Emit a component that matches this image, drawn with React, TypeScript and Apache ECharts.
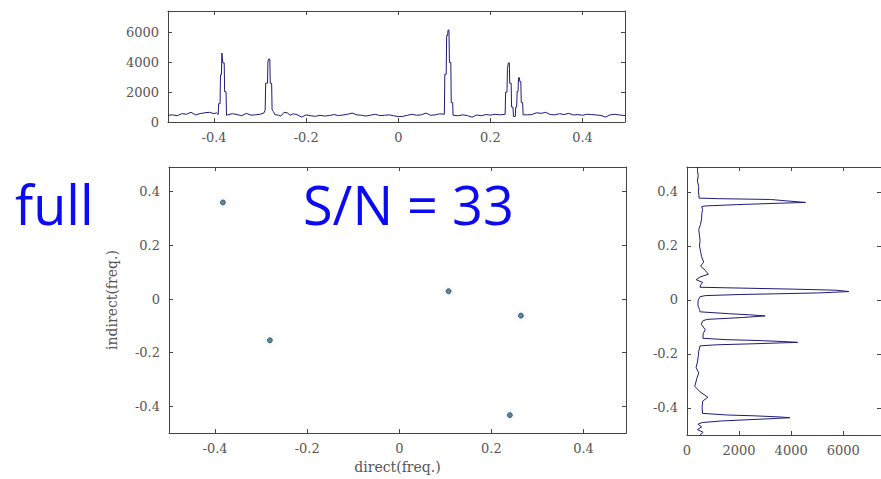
import React, { useEffect, useRef } from "react";
import * as echarts from "echarts";

// Axis ranges and tick positions
const FREQ_MIN = -0.5;
const FREQ_MAX = 0.4922;
const AMP_MAX = 7450;
const freqTicks = [-0.4, -0.2, 0, 0.2, 0.4];
const ampTicks = [0, 2000, 4000, 6000];

// Peaks found in the 2-D plane: [direct freq, indirect freq]
const peaks: [number, number][] = [
  [-0.383, 0.36],
  [-0.281, -0.154],
  [0.107, 0.029],
  [0.264, -0.062],
  [0.24, -0.433],
];

// Projection onto the direct axis: [freq, amplitude]
const directProjection: [number, number][] = [
  [-0.5, 450], [-0.49, 480], [-0.48, 420], [-0.47, 560], [-0.46, 520], [-0.45, 650],
  [-0.44, 480], [-0.43, 560], [-0.42, 620], [-0.41, 650], [-0.4, 560], [-0.395, 620],
  [-0.391, 500], [-0.39, 1230], [-0.387, 1230], [-0.386, 3170], [-0.384, 3170],
  [-0.383, 4630], [-0.381, 3970], [-0.378, 3970], [-0.377, 2030], [-0.374, 2030],
  [-0.373, 450], [-0.37, 480], [-0.36, 560], [-0.35, 500], [-0.34, 420], [-0.33, 580],
  [-0.32, 460], [-0.31, 480], [-0.3, 520], [-0.292, 600], [-0.289, 800], [-0.288, 2600],
  [-0.284, 2600], [-0.283, 4100], [-0.281, 4230], [-0.279, 4230], [-0.278, 2600],
  [-0.275, 2600], [-0.274, 800], [-0.271, 700], [-0.268, 500], [-0.26, 450], [-0.255, 400],
  [-0.248, 650], [-0.24, 600], [-0.235, 450], [-0.228, 550], [-0.22, 500], [-0.21, 330],
  [-0.2, 480], [-0.19, 420], [-0.18, 380], [-0.17, 450], [-0.16, 400], [-0.15, 430],
  [-0.14, 500], [-0.13, 430], [-0.12, 470], [-0.11, 520], [-0.1, 600], [-0.09, 480],
  [-0.08, 450], [-0.07, 400], [-0.06, 460], [-0.05, 520], [-0.04, 430], [-0.03, 450],
  [-0.02, 480], [-0.01, 420], [0, 360], [0.01, 380], [0.02, 450], [0.03, 520], [0.04, 450],
  [0.05, 480], [0.06, 600], [0.07, 450], [0.08, 480], [0.09, 550], [0.1, 520],
  [0.101, 3200], [0.104, 3200], [0.105, 5800], [0.107, 5800], [0.108, 6170], [0.11, 6170],
  [0.111, 4000], [0.114, 4000], [0.115, 1300], [0.118, 1300], [0.119, 450], [0.13, 420],
  [0.14, 480], [0.15, 430], [0.16, 320], [0.17, 470], [0.18, 420], [0.19, 500], [0.2, 460],
  [0.21, 520], [0.22, 480], [0.232, 520], [0.233, 2000], [0.236, 2000], [0.237, 3600],
  [0.239, 3970], [0.241, 3970], [0.242, 2600], [0.245, 2600], [0.246, 1000], [0.249, 1000],
  [0.25, 370], [0.254, 370], [0.255, 1000], [0.257, 1000], [0.258, 2050], [0.26, 2050],
  [0.261, 2970], [0.263, 2970], [0.264, 2700], [0.266, 2700], [0.267, 1300], [0.27, 1300],
  [0.271, 480], [0.28, 480], [0.29, 500], [0.3, 620], [0.31, 580], [0.32, 650], [0.33, 500],
  [0.34, 480], [0.35, 560], [0.36, 500], [0.37, 580], [0.38, 470], [0.39, 500], [0.4, 450],
  [0.41, 520], [0.42, 500], [0.43, 470], [0.44, 440], [0.45, 330], [0.46, 480], [0.47, 520],
  [0.48, 470], [0.4922, 430],
];

// Projection onto the indirect axis: [amplitude, freq]
const indirectProjection: [number, number][] = [
  [420, 0.4922], [400, 0.48], [430, 0.46], [400, 0.44], [450, 0.42], [440, 0.4],
  [460, 0.385], [460, 0.377], [1200, 0.375], [3200, 0.372], [3800, 0.367], [4550, 0.361],
  [3500, 0.358], [1950, 0.353], [700, 0.348], [560, 0.345], [600, 0.335], [570, 0.32],
  [560, 0.3], [520, 0.28], [450, 0.26], [480, 0.24], [500, 0.22], [480, 0.2], [520, 0.18],
  [560, 0.16], [640, 0.14], [520, 0.125], [700, 0.11], [820, 0.095], [500, 0.085],
  [350, 0.075], [600, 0.065], [520, 0.055], [500, 0.047], [1500, 0.045], [4100, 0.04],
  [5730, 0.036], [6220, 0.031], [5050, 0.026], [2000, 0.02], [700, 0.016], [500, 0.012],
  [430, 0], [420, -0.02], [480, -0.035], [500, -0.044], [1630, -0.051], [2400, -0.055],
  [3000, -0.059], [2130, -0.065], [760, -0.072], [600, -0.078], [550, -0.09], [700, -0.11],
  [620, -0.125], [610, -0.142], [1500, -0.147], [2650, -0.15], [3700, -0.154],
  [4250, -0.157], [2650, -0.162], [1140, -0.166], [500, -0.17], [450, -0.19], [430, -0.21],
  [400, -0.23], [350, -0.25], [450, -0.27], [380, -0.29], [300, -0.32], [500, -0.34],
  [800, -0.36], [600, -0.375], [580, -0.4], [600, -0.42], [1550, -0.426], [2580, -0.429],
  [3530, -0.433], [3950, -0.436], [3150, -0.44], [1320, -0.448], [580, -0.454],
  [420, -0.46], [560, -0.47], [400, -0.48], [620, -0.49], [500, -0.5],
];

const AXIS_COLOR = "#444";
const LABEL_FONT = "DejaVu Serif";
const LABEL_COLOR = "#555";
const LINE_COLOR = "#1c1c78";
const TITLE_COLOR = "#0a0af5";

type Pos = "bottom" | "top" | "left" | "right";

function axis(
  gridIndex: number,
  position: Pos,
  min: number,
  max: number,
  ticks: number[],
  labels: boolean,
  extra: Record<string, unknown> = {}
) {
  return {
    type: "value",
    gridIndex,
    position,
    min,
    max,
    splitLine: { show: false },
    axisLine: { show: true, onZero: false, lineStyle: { color: AXIS_COLOR, width: 1 } },
    axisTick: {
      show: true,
      inside: true,
      length: 4,
      customValues: ticks,
      lineStyle: { color: AXIS_COLOR, width: 1 },
    },
    axisLabel: {
      show: labels,
      customValues: ticks,
      margin: 9,
      fontFamily: LABEL_FONT,
      fontSize: 13,
      color: LABEL_COLOR,
      formatter: (v: number) => String(v),
    },
    ...extra,
  };
}

const axisName = {
  nameLocation: "middle",
  nameTextStyle: { fontFamily: LABEL_FONT, fontSize: 14, color: LABEL_COLOR },
};

export default function App() {
  const ref = useRef<HTMLDivElement>(null);

  useEffect(() => {
    if (!ref.current) return;
    const chart = echarts.init(ref.current, undefined, { renderer: "svg" });
    chart.setOption({
      animation: false,
      backgroundColor: "#fff",
      grid: [
        { left: 168, top: 11, width: 457, height: 111 },
        { left: 169, top: 167, width: 457, height: 268 },
        { left: 687, top: 167, width: 196, height: 268 },
      ],
      xAxis: [
        axis(0, "bottom", FREQ_MIN, FREQ_MAX, freqTicks, true),
        axis(0, "top", FREQ_MIN, FREQ_MAX, freqTicks, false),
        axis(1, "bottom", FREQ_MIN, FREQ_MAX, freqTicks, true, {
          ...axisName,
          name: "direct(freq.)",
          nameGap: 25,
        }),
        axis(1, "top", FREQ_MIN, FREQ_MAX, freqTicks, false),
        axis(2, "bottom", 0, AMP_MAX, ampTicks, true),
        axis(2, "top", 0, AMP_MAX, ampTicks, false),
      ],
      yAxis: [
        axis(0, "left", 0, AMP_MAX, ampTicks, true),
        axis(0, "right", 0, AMP_MAX, ampTicks, false),
        axis(1, "left", FREQ_MIN, FREQ_MAX, freqTicks, true, {
          ...axisName,
          name: "indirect(freq.)",
          nameGap: 50,
        }),
        axis(1, "right", FREQ_MIN, FREQ_MAX, freqTicks, false),
        axis(2, "left", FREQ_MIN, FREQ_MAX, freqTicks, true),
        axis(2, "right", FREQ_MIN, FREQ_MAX, freqTicks, false),
      ],
      series: [
        {
          type: "line",
          xAxisIndex: 0,
          yAxisIndex: 0,
          data: directProjection,
          showSymbol: false,
          clip: true,
          lineStyle: { color: LINE_COLOR, width: 1 },
        },
        {
          type: "scatter",
          xAxisIndex: 2,
          yAxisIndex: 2,
          data: peaks,
          symbol: "circle",
          symbolSize: 5,
          itemStyle: {
            color: "#346a82",
            borderColor: "#23465a",
            borderWidth: 1,
            shadowBlur: 6,
            shadowColor: "rgba(150,190,230,0.45)",
          },
        },
        {
          type: "line",
          xAxisIndex: 4,
          yAxisIndex: 4,
          data: indirectProjection,
          showSymbol: false,
          clip: true,
          lineStyle: { color: LINE_COLOR, width: 1 },
        },
      ],
      graphic: [
        {
          type: "text",
          x: 15,
          y: 204,
          style: {
            text: "full",
            fontFamily: "Open Sans",
            fontSize: 54,
            fill: TITLE_COLOR,
            align: "left",
            verticalAlign: "middle",
          },
        },
        {
          type: "text",
          x: 303,
          y: 204,
          style: {
            text: "S/N = 33",
            fontFamily: "Open Sans",
            fontSize: 54,
            fill: TITLE_COLOR,
            align: "left",
            verticalAlign: "middle",
          },
        },
      ],
    });
    return () => chart.dispose();
  }, []);

  return (
    <div
      ref={ref}
      style={{ position: "fixed", left: 0, top: 0, width: 881, height: 479, background: "#fff" }}
    />
  );
}
